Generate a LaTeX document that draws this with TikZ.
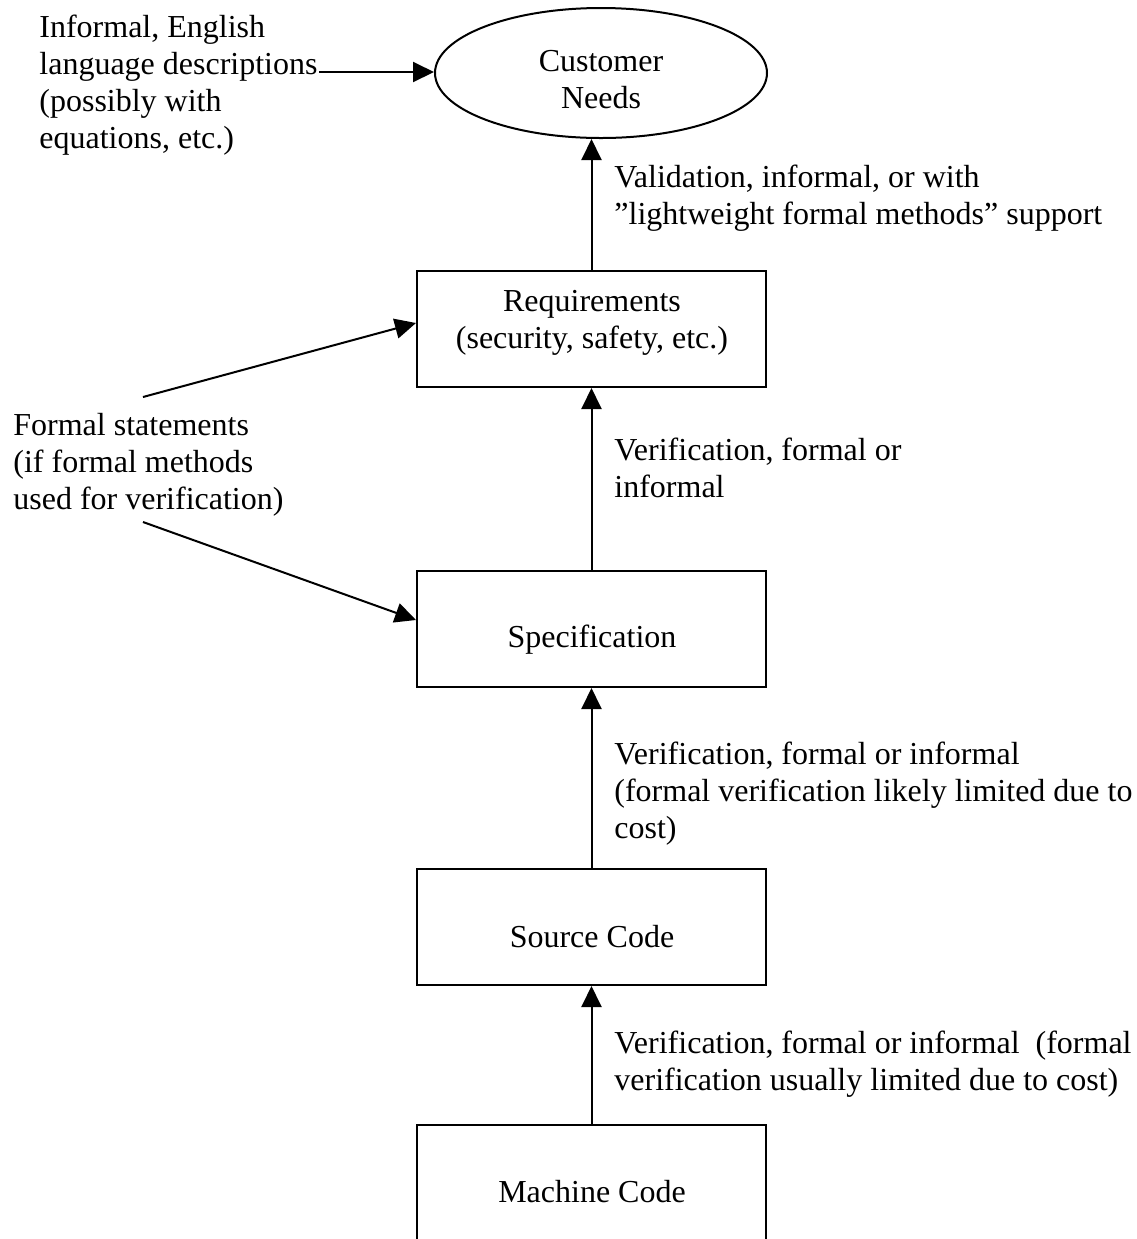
\documentclass[tikz,border=0pt]{standalone}
\usepackage{fontspec}
\setmainfont{Liberation Serif}
\usetikzlibrary{arrows.meta,shapes.geometric}
\newcommand\LftLines[1]{\vtop{\halign{##\hfil\cr#1\crcr}}}
\newcommand\CtrLines[1]{\vtop{\halign{\hfil##\hfil\cr#1\crcr}}}
\begin{document}
\begin{tikzpicture}[x=0.5pt,y=-0.5pt,
  every node/.style={font=\fontsize{16pt}{18.5pt}\selectfont, inner sep=0pt},
  box/.style={draw, line width=1pt, minimum width=174.5pt, minimum height=58pt, inner sep=0pt},
  conn/.style={line width=1pt, -{Triangle[length=10.5pt,width=10pt]}},
  txt/.style={anchor=base west},
  ctxt/.style={anchor=base}]
\useasboundingbox (0,0) rectangle (1137,1239);
\clip (0,0) rectangle (1137,1239);
\fill[white] (0,0) rectangle (1137,1239);
% shapes
\node[ellipse, draw, line width=1pt, minimum width=166pt, minimum height=65pt] (cust) at (601,73) {};
\node[box] (req) at (591.5,329) {};
\node[box] (spec) at (591.5,629) {};
\node[box] (src) at (591.5,927) {};
\node[box, minimum height=80pt] (mach) at (591.5,1205) {};
% texts
\node[ctxt] (custT) at (601,71) {\CtrLines{Customer\cr Needs}};
\node[ctxt] (reqT) at (592,311) {\CtrLines{Requirements\cr (security, safety, etc.)}};
\node[ctxt] (specT) at (592,647) {Specification};
\node[ctxt] (srcT) at (592,947) {Source Code};
\node[ctxt] (machT) at (592,1202) {Machine Code};
\node[txt] (inf) at (39,37) {\LftLines{Informal, English\cr language descriptions\cr (possibly with\cr equations, etc.)}};
\node[txt] (fs) at (13,435) {\LftLines{Formal statements\cr (if formal methods\cr used for verification)}};
\node[txt] (val) at (614,187) {\LftLines{Validation, informal, or with\cr ”lightweight formal methods” support}};
\node[txt] (ver1) at (614,460) {\LftLines{Verification, formal or\cr informal}};
\node[txt] (ver2) at (614,764) {\LftLines{Verification, formal or informal\cr (formal verification likely limited due to\cr cost)}};
\node[txt] (ver3) at (614,1053) {\LftLines{Verification, formal or informal\ \ (formal\cr verification usually limited due to cost)}};
% connectors
\coordinate (infEnd) at (319,72);
\coordinate (fsTop) at (143,397);
\coordinate (fsBot) at (143,522);
\draw[conn] (infEnd) -- (cust.west |- infEnd);
\draw[conn] (req.north) -- (req.north |- cust.south);
\draw[conn] (fsTop) -- ([yshift=3pt]req.west);
\draw[conn] (fsBot) -- ([yshift=4.5pt]spec.west);
\draw[conn] (spec.north) -- (req.south);
\draw[conn] (src.north) -- (spec.south);
\draw[conn] (mach.north) -- (src.south);
\end{tikzpicture}
\end{document}
